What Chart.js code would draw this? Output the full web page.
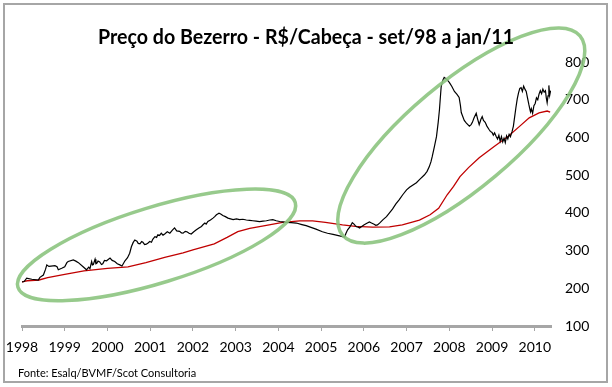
<!DOCTYPE html>
<html><head><meta charset="utf-8">
<script src="https://cdn.jsdelivr.net/npm/chart.js@4"></script>
<style>html,body{margin:0;padding:0;background:#fff}canvas{display:block}</style>
</head><body>
<canvas id="c" width="612" height="387"></canvas>
<script>
const titleText = "Preço do Bezerro - R$/Cabeça - set/98 a jan/11";
const sourceText = "Fonte: Esalq/BVMF/Scot Consultoria";
const yearTicks = [1998,1999,2000,2001,2002,2003,2004,2005,2006,2007,2008,2009,2010];
const valueTicks = [100,200,300,400,500,600,700,800];

const priceYears = [1998.00,1998.05,1998.11,1998.23,1998.38,1998.42,1998.50,1998.55,1998.58,1998.63,1998.68,1998.77,1998.82,1998.85,1998.93,1999.00,1999.05,1999.08,1999.20,1999.26,1999.32,1999.43,1999.51,1999.56,1999.59,1999.63,1999.65,1999.67,1999.71,1999.73,1999.75,1999.78,1999.82,1999.86,1999.89,1999.93,1999.98,2000.06,2000.11,2000.17,2000.23,2000.29,2000.34,2000.41,2000.47,2000.52,2000.56,2000.60,2000.64,2000.69,2000.72,2000.76,2000.80,2000.83,2000.87,2000.91,2000.95,2000.99,2001.03,2001.06,2001.11,2001.15,2001.18,2001.22,2001.26,2001.30,2001.34,2001.40,2001.46,2001.52,2001.57,2001.62,2001.69,2001.73,2001.77,2001.82,2001.86,2001.91,2001.96,2002.02,2002.08,2002.14,2002.20,2002.24,2002.28,2002.31,2002.35,2002.41,2002.47,2002.51,2002.55,2002.58,2002.61,2002.65,2002.70,2002.76,2002.82,2002.88,2002.94,2003.02,2003.09,2003.17,2003.25,2003.33,2003.40,2003.48,2003.56,2003.64,2003.72,2003.80,2003.87,2003.95,2004.03,2004.10,2004.18,2004.30,2004.42,2004.55,2004.65,2004.73,2004.88,2005.03,2005.15,2005.28,2005.43,2005.50,2005.55,2005.58,2005.62,2005.67,2005.73,2005.77,2005.80,2005.83,2005.87,2005.90,2005.95,2006.00,2006.06,2006.13,2006.18,2006.24,2006.28,2006.32,2006.38,2006.45,2006.53,2006.60,2006.67,2006.75,2006.83,2006.91,2007.00,2007.07,2007.15,2007.23,2007.32,2007.42,2007.48,2007.53,2007.57,2007.60,2007.65,2007.70,2007.74,2007.77,2007.79,2007.81,2007.85,2007.88,2007.93,2008.00,2008.06,2008.12,2008.18,2008.23,2008.26,2008.28,2008.35,2008.40,2008.47,2008.51,2008.54,2008.58,2008.63,2008.66,2008.70,2008.74,2008.77,2008.80,2008.84,2008.88,2008.93,2008.96,2009.00,2009.03,2009.06,2009.10,2009.13,2009.16,2009.19,2009.22,2009.25,2009.28,2009.31,2009.34,2009.37,2009.40,2009.43,2009.47,2009.50,2009.53,2009.56,2009.59,2009.62,2009.65,2009.68,2009.71,2009.74,2009.77,2009.80,2009.83,2009.86,2009.88,2009.90,2009.92,2009.95,2009.98,2010.01,2010.04,2010.07,2010.10,2010.13,2010.16,2010.19,2010.22,2010.25,2010.27,2010.29,2010.31,2010.33,2010.35,2010.37];
const priceValues = [217,218,227,224,222,229,235,250,262,258,259,260,257,249,253,257,268,271,275,272,268,257,249,256,252,271,262,263,277,265,266,272,270,263,265,274,273,280,274,271,265,262,259,273,281,293,310,321,328,325,319,318,324,322,316,317,320,324,322,330,337,335,342,340,346,341,344,350,346,354,360,352,351,347,346,351,350,346,344,350,355,360,364,369,373,370,377,381,386,390,395,397,399,397,393,390,386,384,382,384,382,383,381,380,379,378,377,378,379,381,382,379,377,376,375,374,373,369,366,363,357,350,346,343,339,337,336,345,355,362,374,370,366,363,362,360,364,368,372,376,373,370,367,368,374,382,390,400,410,424,435,448,461,468,474,480,490,501,510,522,535,549,575,602,640,674,705,735,752,759,755,746,735,722,714,706,685,666,645,638,630,634,640,652,664,650,634,648,655,645,640,630,621,616,613,606,612,602,596,606,590,602,588,598,586,604,596,608,602,616,630,655,680,702,718,730,732,722,736,728,722,705,688,678,668,676,664,684,690,705,700,715,724,716,728,720,724,705,692,710,738,712,724];

const avgYears = [1998.00,1998.12,1998.40,1998.60,1999.00,1999.45,2000.00,2000.48,2000.90,2001.34,2001.77,2002.00,2002.50,2002.80,2003.05,2003.33,2003.72,2004.10,2004.50,2004.80,2005.10,2005.50,2005.80,2006.20,2006.60,2006.90,2007.30,2007.55,2007.75,2007.95,2008.10,2008.25,2008.45,2008.70,2009.05,2009.38,2009.65,2009.87,2010.10,2010.29,2010.36];
const avgValues = [217,220,222,228,237,246,253,257,268,282,294,302,318,335,350,359,367,375,379,379,375,368,364,362,363,368,381,395,412,448,470,496,520,546,576,603,630,652,665,670,667];

const priceData = priceYears.map((x,i)=>({x, y: priceValues[i]}));
const avgData = avgYears.map((x,i)=>({x, y: avgValues[i]}));

const decor = {
  id: 'decor',
  afterDatasetsDraw(chart, args, opts) {
    const {ctx, scales: {x, y}} = chart;
    ctx.save();
    ctx.strokeStyle = opts.ellipseColor;
    ctx.lineWidth = opts.ellipseWidth;
    for (const e of opts.ellipses) {
      ctx.beginPath();
      ctx.ellipse(x.getPixelForValue(e.year), y.getPixelForValue(e.value), e.rx, e.ry, e.rot * Math.PI / 180, 0, Math.PI * 2);
      ctx.stroke();
    }
    ctx.restore();
  },
  afterDraw(chart, args, opts) {
    const ctx = chart.ctx;
    ctx.save();
    ctx.strokeStyle = '#a6a6a6';
    ctx.lineWidth = 2;
    ctx.strokeRect(4, 4, 603, 378);
    ctx.fillStyle = '#000';
    ctx.font = 'bold 20px Lato';
    ctx.textAlign = 'center';
    ctx.textBaseline = 'alphabetic';
    const w = ctx.measureText(titleText).width;
    ctx.translate(opts.titleX, opts.titleY);
    ctx.scale(opts.titleWidth / w, 1);
    ctx.fillText(titleText, 0, 0);
    ctx.restore();
    ctx.save();
    ctx.fillStyle = '#000';
    ctx.font = '11px Lato';
    ctx.textAlign = 'left';
    ctx.textBaseline = 'alphabetic';
    ctx.fillText(sourceText, opts.sourceX, opts.sourceY);
    ctx.restore();
  }
};

new Chart(document.getElementById('c'), {
  type: 'line',
  data: {
    datasets: [
      {data: priceData, borderColor: '#000', borderWidth: 1.2, pointRadius: 0, tension: 0, fill: false},
      {data: avgData, borderColor: '#c00000', borderWidth: 1.3, pointRadius: 0, tension: 0, fill: false}
    ]
  },
  options: {
    responsive: false,
    animation: false,
    devicePixelRatio: 1,
    layout: {padding: {left: 22, right: 0, top: 62, bottom: 0}},
    plugins: {
      legend: {display: false},
      tooltip: {enabled: false},
      title: {display: false},
      decor: {
        ellipseColor: 'rgba(140,196,128,0.9)',
        ellipseWidth: 3.5,
        ellipses: [
          {year: 2001.15, value: 315, rx: 145, ry: 38, rot: -17},
          {year: 2008.28, value: 605, rx: 155, ry: 53, rot: -40}
        ],
        titleX: 306, titleY: 44, titleWidth: 416,
        sourceX: 18, sourceY: 377
      }
    },
    scales: {
      x: {
        type: 'linear',
        min: 1998, max: 2010.38,
        afterBuildTicks: (s) => { s.ticks = yearTicks.map(v => ({value: v})); },
        afterFit: (s) => { s.height = 61; s.paddingLeft = 0; s.paddingRight = 0; },
        ticks: {
          autoSkip: false, maxRotation: 0, padding: 8,
          color: '#000',
          font: {family: 'Lato', size: 14},
          callback: (v) => String(v)
        },
        grid: {display: true, drawOnChartArea: false, drawTicks: true, tickLength: 5, color: '#a6a6a6', lineWidth: 1},
        border: {display: true, color: '#a6a6a6', width: 3}
      },
      y: {
        position: 'right',
        min: 100, max: 800,
        afterBuildTicks: (s) => { s.ticks = valueTicks.map(v => ({value: v})); },
        afterFit: (s) => { s.width = 61; },
        ticks: {
          padding: 14, color: '#000',
          font: {family: 'Lato', size: 14},
          callback: (v) => String(v)
        },
        grid: {display: false, drawTicks: false},
        border: {display: false}
      }
    }
  },
  plugins: [decor]
});
</script>
</body></html>
